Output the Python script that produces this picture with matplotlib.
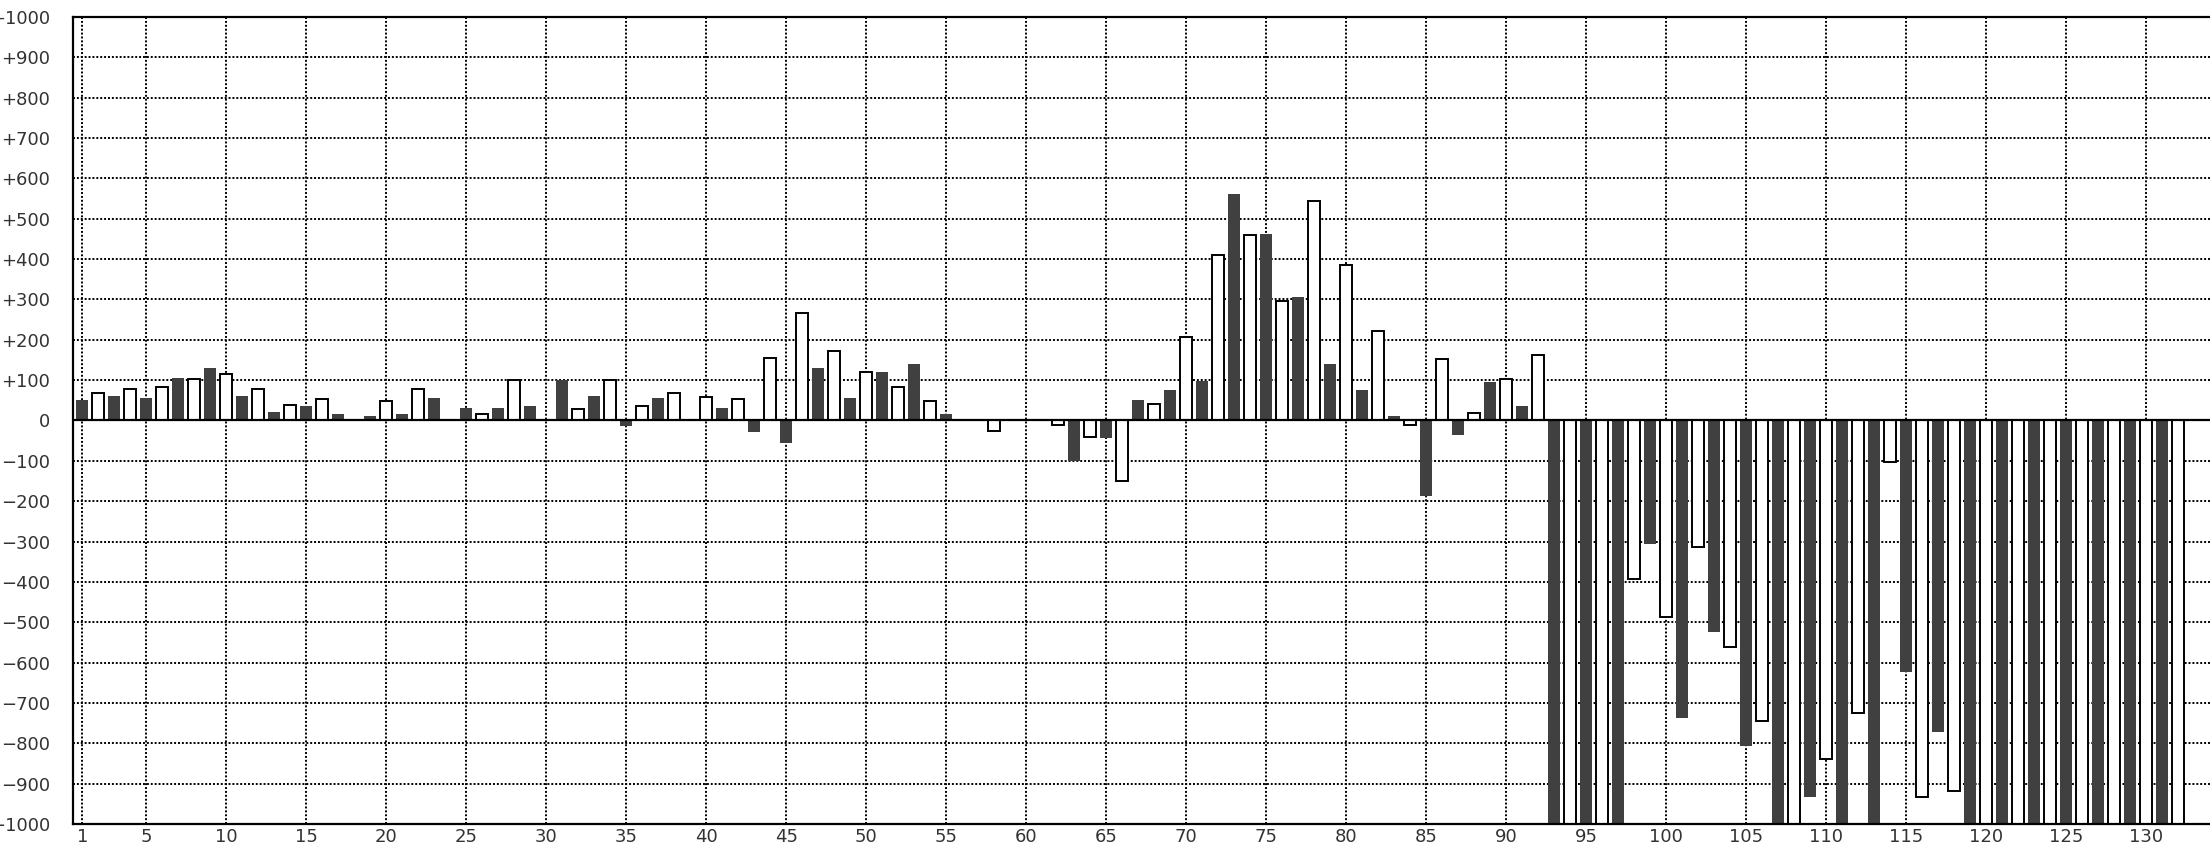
import matplotlib.pyplot as plt
import numpy as np

# dark bars sit on odd positions 1, 3, ..., 131
dark_values = [50, 60, 55, 105, 130, 60, 20, 36, 16, 11,
               16, 55, 31, 31, 36, 100, 60, -13, 55, 0,
               31, -28, -57, 130, 55, 120, 139, 16, 0, 0,
               0, -100, -43, 51, 75, 99, 560, 461, 307, 139,
               75, 11, -186, -37, 96, 36, -1000, -1000, -1000, -305,
               -738, -523, -806, -1000, -933, -1000, -1000, -623, -771, -1000,
               -1000, -1000, -1000, -1000, -1000, -1000]
# white bars sit on even positions 2, 4, ..., 132
light_values = [68, 79, 84, 103, 115, 79, 39, 53, 0, 49,
                79, 0, 15, 100, 0, 29, 100, 35, 68, 59,
                53, 154, 267, 172, 119, 84, 49, 0, -27, 0,
                -12, -41, -150, 40, 207, 410, 460, 297, 544, 386,
                222, -12, 152, 19, 103, 163, -1000, -1000, -394, -487,
                -314, -561, -745, -1000, -840, -725, -104, -932, -918, -1000,
                -1000, -1000, -1000, -1000, -1000, -1000]

x_ticks = [1] + list(range(5, 131, 5))
y_ticks = list(range(-1000, 1001, 100))
y_labels = ['+%d' % v if v > 0 else ('0' if v == 0 else '\u2212%d' % -v) for v in y_ticks]

dark_x = np.arange(1, 2 * len(dark_values), 2)
light_x = np.arange(2, 2 * len(light_values) + 1, 2)

fig = plt.figure(figsize=(22.1, 8.46), dpi=100)
ax = fig.add_axes([0.0329, 0.026, 0.9671, 0.954])

ax.bar(dark_x, dark_values, width=0.75, color='#404040', zorder=2)
ax.bar(light_x, light_values, width=0.75, color='white', edgecolor='black', linewidth=1.4, zorder=2)
ax.axhline(0, color='black', linewidth=1.6, zorder=3)

ax.set_xlim(0.4, 134)
ax.set_ylim(-1000, 1000)
ax.set_xticks(x_ticks)
ax.set_yticks(y_ticks)
ax.set_yticklabels(y_labels)

ax.grid(True, color='black', linestyle=(0, (1, 1)), linewidth=1.4)
ax.set_axisbelow(True)
ax.tick_params(length=0, labelsize=13, labelcolor='#333333')
ax.tick_params(axis='y', pad=16)
ax.tick_params(axis='x', pad=3)

for side in ['left', 'bottom', 'top']:
    ax.spines[side].set_linewidth(1.6)
ax.spines['right'].set_visible(False)

fig.savefig('out.png', dpi=100)
plt.close()
